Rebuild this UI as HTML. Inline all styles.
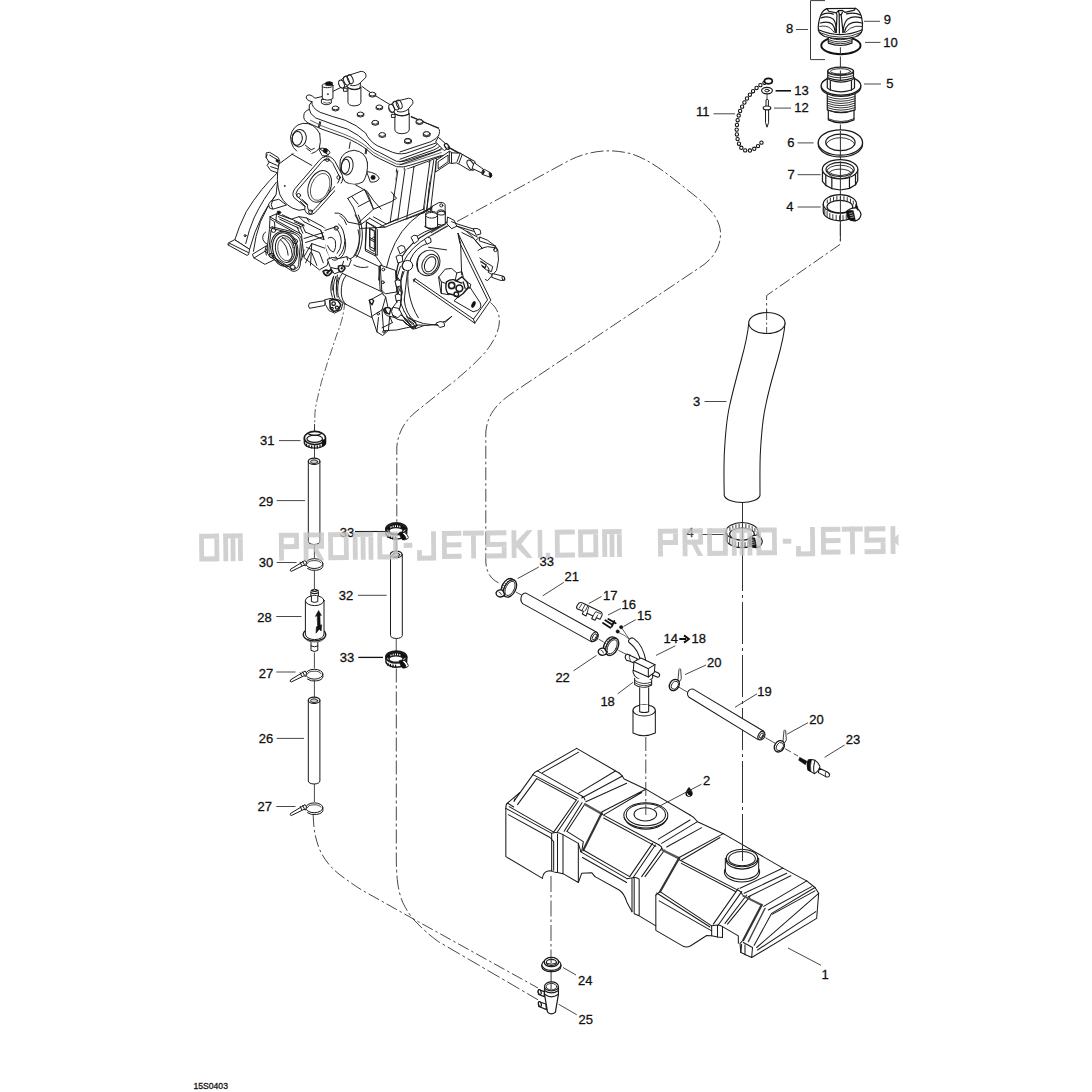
<!DOCTYPE html>
<html><head><meta charset="utf-8"><title>15S0403</title>
<style>
html,body{margin:0;padding:0;background:#fff;}
body{width:1092px;height:1092px;overflow:hidden;font-family:"Liberation Sans",sans-serif;}
svg{display:block}
.l{fill:none;stroke:#1a1a1a;stroke-width:1;stroke-linecap:round;stroke-linejoin:round}
.t{fill:none;stroke:#222;stroke-width:0.8;stroke-linecap:round;stroke-linejoin:round}
.w{fill:#fff;stroke:#1a1a1a;stroke-width:1;stroke-linecap:round;stroke-linejoin:round}
.k{fill:#111;stroke:#111;stroke-width:0.6}
.ld{fill:none;stroke:#333;stroke-width:0.9}
.d{fill:none;stroke:#333;stroke-width:0.9;stroke-dasharray:9 3 2 3}
.s6 .w,.s6 .l{stroke-width:6.2px}.s6 .ld{stroke-width:5px}.s6 .k{stroke-width:3px}.s6 .t{stroke-width:4.6px}
.s4 .w,.s4 .l{stroke-width:4.2px}.s4 .ld{stroke-width:3.4px}.s4 .k{stroke-width:2px}.s4 .t{stroke-width:3.2px}
.s3 .w,.s3 .l{stroke-width:3.1px}.s3 .ld{stroke-width:2.6px}.s3 .k{stroke-width:1.5px}.s3 .t{stroke-width:2.4px}
.s10 .w,.s10 .l{stroke-width:12px}.s10 .ld{stroke-width:10px}.s10 .k{stroke-width:5px}.s10 .t{stroke-width:9px}
.s8 .w,.s8 .l{stroke-width:7.6px}.s8 .ld{stroke-width:6px}.s8 .k{stroke-width:4px}.s8 .t{stroke-width:5.4px}
text{font-family:"Liberation Sans",sans-serif;font-size:13px;fill:#111;stroke:#111;stroke-width:0.3px}
</style></head><body>
<svg width="1092" height="1092" viewBox="0 0 1092 1092">
<rect width="1092" height="1092" fill="#fff"/>
<!-- dashed assembly lines -->
<g class="d">
<!-- A: engine cover -> big loop -> clamp 33 (right) -->
<path d="M457 221.5L570 160C590 150.5 610 148.5 630 153.5C650 159 670 176 692 193.5C708 206 719.5 218 720.5 232C721 248 712 260 699 268L515 391.3C497 403 487.5 414 485.8 432V562C486.5 574 492 580 500 583.5" style="stroke-dasharray:13 3 2.5 3"/>
<!-- B: bracket -> clamp 33 (mid col) -->
<path d="M490.5 302.5C497 308 500 315 499.3 323C498.5 333 492 344 485 352.5C472 367 455 381 440 392.5L415 412.5C404 422 398 433 396.8 447V522" style="stroke-dasharray:12 3 2.5 3"/>
<!-- C: engine bottom -> clamp 31 -->
<path d="M344.8 301C344 314 341 324 337.5 332.5L327.5 362.5C324 374 321.5 381 320 387.5C317.5 398 315.5 406 315 412.5L314.4 431" style="stroke-dasharray:9 2.5 2 2.5;stroke-width:0.8"/>
<!-- L: clamp 27 lower -> T fitting -->
<path d="M313.2 815C313.5 826 314.5 836 319 848C324 860 332 869 341 875.6C349 881.5 356 886.5 362.4 890.4L418.5 921.8L538 988" style="stroke-dasharray:12 3 2.5 3"/>
<!-- M: clamp 33 lower -> T fitting -->
<path d="M396.3 668.5V860C396.5 880 398.5 893 403 903C407 911 411 917 416 922C423 929.5 430 935.5 438.3 941.6L477.8 964.6L538 999.8" style="stroke-dasharray:14 3 3 3"/>
<!-- cap assembly axis to hose 3 -->
<path d="M840.3 224V244.2L766.6 295.5V322" style="stroke-dasharray:12 3 2.5 3"/>
<path d="M742.5 549V846" style="stroke-dasharray:42 4 3 4;stroke-width:1"/>
</g>

<!-- left column: 31,29,30,28,27,26,27 -->
<g id="leftcol">
<!-- center line segments -->
<path class="ld" d="M314.5 424V432M314.5 447.5V458.5M314.4 544.5V558M314.4 570.5V589M314.4 652.5V668.5M314.4 680.5V697.5M314.4 784V802"/>
<!-- clamp 31 -->
<g>
<path class="w" d="M304.3 438.5V442.5A10.6 5.6 0 0 0 325.5 442.5V438.5" style="stroke-width:1.3"/>
<ellipse cx="314.9" cy="438" rx="10.6" ry="6.6" class="w" style="stroke-width:1.6"/>
<ellipse cx="314.7" cy="438.8" rx="7.8" ry="3.6" class="w" style="stroke-width:1.2"/>
<path class="l" d="M307.5 433.6Q314.5 437.5 321.5 433.4" style="stroke-width:1.2"/>
<path class="l" d="M306.5 444.2V446.3M309 445.2V447.4M311.7 445.8V448M314.5 446V448.2M317.3 445.8V448M320 445.2V447.4M322.5 444V446.4M324.4 442.6V444.8" style="stroke-width:1.3"/>
<path class="k" d="M322 440L325.8 439.5V444L322.5 446.6Z"/>
</g>
<!-- tube 29 -->
<path class="w" d="M308.3 461.3V541.5A5.8 3 0 0 0 319.9 541.5V461.3"/>
<ellipse cx="314.1" cy="461.3" rx="5.8" ry="3.2" class="w" style="stroke-width:1.2"/>
<ellipse cx="314.1" cy="461.7" rx="3.6" ry="1.9" class="w" style="fill:#ccc;stroke-width:0.9"/>
<!-- clamp 30 -->
<g id="tie">
<path class="l" d="M305.6 563.6A8.6 4.9 0 1 1 322.9 563.6V566.3A8.6 4.6 0 0 1 307.5 568.6"/>
<path class="l" d="M305.6 563.6A8.6 4.9 0 0 0 322.9 563.6"/>
<path class="l" d="M307.5 563.4A6.8 2.9 0 0 1 321 563" style="stroke-width:0.8"/>
<path class="w" d="M304.8 560.6L290.6 569.2Q289.4 570.8 291.2 571.4L304 565.2L305.6 565.8L306.4 563Z"/>
<path class="l" d="M300.2 562.2L301.6 565.4M302.6 561.4L304.4 564.6"/>
</g>
<!-- filter 28 -->
<g>
<path class="w" d="M310.9 601V591.6Q311 589.4 314.6 589.3Q318.3 589.4 318.4 591.6V601"/>
<path class="l" d="M311.3 590.4Q314.6 592.2 318 590.4M311 592.8Q314.6 594.4 318.3 592.8" style="stroke-width:1.2"/>
<path class="w" d="M303.2 634.5A11.3 6.4 0 0 0 325.8 634.5A11.3 6.4 0 0 0 303.2 634.5Z" style="stroke-width:1.3"/>
<path class="w" d="M305.4 600.6V634A9.3 5.6 0 0 0 324 634V600.6"/>
<ellipse cx="314.7" cy="600.6" rx="9.3" ry="5" class="w"/>
<path class="w" d="M311.4 596V601.6Q314.6 603.2 317.8 601.6V596" />
<path class="l" d="M304.4 637.2A10.4 5.8 0 0 0 325 637.2" style="stroke-width:0.8"/>
<path class="w" d="M311 642.6V650.4Q314.4 652.6 317.8 650.4V642.6"/>
<path class="l" d="M311 646Q314.4 647.8 317.8 646"/>
<path class="k" d="M318.6 610.6L321.4 615.4L319.9 615.2L320.2 625.2L321.6 624.8L321.2 631L319.2 629.2L316 633.2L316.4 627L317.6 625.8L317.2 615.6L315.4 616.4Z"/>
</g>
<!-- clamp 27 -->
<use href="#tie" transform="translate(0 110.6)"/>
<!-- tube 26 -->
<path class="w" d="M308.3 700.3V781A5.8 3 0 0 0 319.9 781V700.3"/>
<ellipse cx="314.1" cy="700.3" rx="5.8" ry="3.2" class="w" style="stroke-width:1.2"/>
<ellipse cx="314.1" cy="700.7" rx="3.6" ry="1.9" class="w" style="fill:#ccc;stroke-width:0.9"/>
<!-- clamp 27 lower -->
<use href="#tie" transform="translate(0 244.2)"/>
</g>

<!-- middle column: 33,32,33 -->
<g id="midcol">
<path class="ld" d="M396.3 540V551M396.3 638.5V651" style="stroke:#777;stroke-width:1.3"/>
<g id="c33">
<path class="w" d="M385.9 528.6V533A10.4 6 0 0 0 406.7 533V528.6" style="stroke-width:1.4"/>
<ellipse cx="396.3" cy="528.8" rx="10.4" ry="5.9" class="w" style="stroke-width:1.7"/>
<path class="k" d="M386 528.8A10.4 5.9 0 0 1 406.6 528.8L403.2 530.6A7 3.2 0 0 0 389.4 530.6Z"/>
<path d="M391 526.2V528.4M393.2 525.6V527.8M395.4 525.3V527.5M397.6 525.3V527.5M399.8 525.7V527.9" stroke="#fff" stroke-width="1.1" fill="none"/>
<ellipse cx="396" cy="530.8" rx="7" ry="3.2" class="w" style="stroke-width:1.2"/>
<path class="l" d="M388 535.2V537.4M390.4 536.2V538.4M393 536.8V539M395.6 537V539.2" style="stroke-width:1.3"/>
<path class="k" d="M399.3 532.4Q403 530.6 406.2 535Q408.4 537.4 407.4 538.6Q405 540.6 402.4 539.8Q400 537.6 399.3 532.4Z"/>
<path class="w" d="M404.4 532.2Q407.6 534.6 408.4 537.4Q408 539 406.2 539.2Q405.8 536 402.6 533.4Z" style="stroke-width:0.9"/>
</g>
<!-- tube 32 -->
<path class="w" d="M390.5 554.4V635.5A5.9 3 0 0 0 402.3 635.5V554.4"/>
<ellipse cx="396.2" cy="554.4" rx="5.8" ry="3.3" class="w" style="stroke-width:1.2"/>
<ellipse cx="396.2" cy="554.8" rx="3.6" ry="1.9" class="w" style="fill:#ccc;stroke-width:0.9"/>
<use href="#c33" transform="translate(0 128.2)"/>
</g>

<!-- fuel line group A: 33,21,17,16,15,22, valve 18 (6x coords, origin 485,555) -->
<g transform="translate(485 555) scale(0.166667)" class="s6">
<!-- axis hints -->
<path class="ld" d="M185 222L222 242M682 505L712 522M800 572L848 596" style="stroke-width:5px"/>
<!-- clamp 33 tilted -->
<g id="tclamp">
<g transform="translate(143 197) rotate(27)">
<ellipse cx="-8" cy="0" rx="34" ry="56" class="w" style="stroke-width:8px"/>
<ellipse cx="8" cy="0" rx="34" ry="56" class="w" style="stroke-width:8px"/>
<ellipse cx="8" cy="0" rx="25" ry="46" class="w" style="stroke-width:5px"/>
<path class="l" d="M-8 -56L8 -56M-8 56L8 56" style="stroke-width:6px"/>
<path class="l" d="M-30 32L-20 36M-36 16L-26 19M-40 0L-28 2M-38 -16L-27 -14M-32 -32L-22 -29" style="stroke-width:4px"/>
</g>
<path class="w" d="M104 210Q74 204 66 228Q68 250 94 252Q112 250 118 236Z" style="stroke-width:8px"/>
<path class="l" d="M84 222Q96 224 98 238" style="stroke-width:5px"/>
</g>
<!-- tube 21 -->
<path class="w" d="M246 229L668 462Q690 480 672 508Q652 526 632 517L226 292Q206 268 222 240Q234 226 246 229Z"/>
<g transform="translate(655 490) rotate(29)"><ellipse rx="17" ry="30" class="w"/><ellipse cx="2" rx="10" ry="20" class="w" style="stroke-width:5px"/></g>
<!-- 17 connector -->
<path class="w" d="M556 298Q566 280 586 288L694 340Q708 350 700 368L690 386L668 376L660 392L640 382L648 366L612 350L606 366L584 354L590 338L552 322Q546 310 556 298Z"/>
<path class="l" d="M566 318L580 296M584 328L600 300M600 336L616 308M622 312L612 350M648 366L664 340L694 352M668 376L676 360" style="stroke-width:5px"/>
<!-- 16 -->
<path d="M708 408L752 436M722 392L766 420M740 384L784 410M776 396L760 430" fill="none" stroke="#111" stroke-width="11" stroke-linecap="round"/>
<!-- 15 -->
<circle cx="817" cy="433" r="10" class="k"/><circle cx="796" cy="459" r="10" class="k"/>
<path class="l" d="M822 440L866 505M800 464Q836 478 866 505" style="stroke-width:4px"/>
<!-- 22 clamp -->
<use href="#tclamp" transform="translate(613 350)"/>
<!-- valve 18 -->
<path class="w" d="M866 506Q878 492 892 500Q950 540 966 640L936 652Q926 570 862 522Q858 514 866 506Z"/>
<path class="w" d="M852 594Q838 602 842 620Q848 636 862 634L904 652L914 622Z"/>
<path class="l" d="M868 598Q860 614 872 632" style="stroke-width:5px"/>
<path class="w" d="M1000 690L1040 708Q1052 716 1046 728Q1038 736 1028 730L996 716Z"/>
<path class="w" d="M888 692Q884 730 940 752Q990 762 1006 736L1006 700Z"/>
<path class="w" d="M894 640L936 618L1020 658L1016 704L980 732L890 692Z"/>
<path class="l" d="M894 640L980 682L1020 658M980 682V732"/>
<path class="w" d="M898 740V778Q946 812 1000 780V752"/>
<path class="l" d="M898 752Q946 786 1000 762M898 765Q946 800 1000 774" style="stroke-width:5px"/>
<path class="w" d="M928 796V932H982V796"/>
<path class="w" d="M888 932V1068Q950 1100 1022 1068V932"/>
<ellipse cx="955" cy="932" rx="67" ry="34" class="w"/>
<path class="w" d="M928 900V938Q955 950 982 938V900" style="stroke:none"/>
<path class="l" d="M928 900V940Q955 950 982 940V900"/>
</g>
<!-- fuel line group B: 20,19,20,23, drop 2 (6x coords, origin 670,640) -->
<g transform="translate(670 640) scale(0.166667)" class="s6">
<path class="ld" d="M52 282L106 314M572 586L632 620M690 652L726 672M742 682L768 696" style="stroke-width:5px"/>
<g id="clip20">
<g transform="translate(26 270) rotate(32)"><ellipse rx="28" ry="36" class="w" style="stroke-width:8px"/><ellipse cx="3" rx="19" ry="26" class="w" style="stroke-width:5px"/></g>
<path class="w" d="M48 238L54 176Q58 166 64 176L68 232L60 246Z" style="stroke-width:5px"/>
</g>
<!-- tube 19 -->
<path class="w" d="M142 296L560 546Q578 562 564 588Q548 606 526 596L112 342Q98 322 112 304Q126 290 142 296Z"/>
<g transform="translate(546 572) rotate(31)"><ellipse rx="15" ry="27" class="w"/><ellipse cx="2" rx="8" ry="17" class="w" style="stroke-width:5px"/></g>
<use href="#clip20" transform="translate(630 368)"/>
<!-- valve 23 -->
<path d="M778 704L822 728L812 748L772 722Z" class="k"/>
<path class="w" d="M830 720Q818 746 828 780L866 802Q892 790 900 760Q890 734 870 722Q848 712 830 720Z"/>
<path d="M830 720Q818 746 828 780L846 790Q838 756 850 718Q838 716 830 720Z" class="k"/>
<path class="l" d="M866 802Q856 770 870 722"/>
<path class="w" d="M896 770L944 792Q962 802 956 816Q948 826 934 820L890 796Z"/>
<path class="l" d="M936 790Q926 804 934 820" style="stroke-width:5px"/>
<!-- drop 2 -->
<path d="M114 884Q142 916 132 932Q114 950 96 932Q88 916 114 884Z" class="k"/>
<path d="M104 922Q106 934 116 934" fill="none" stroke="#fff" stroke-width="6" stroke-linecap="round"/>
</g>

<!-- cap assembly 8,9,10,5,6,7,4 (9.927x coords, origin 786,0) -->
<g transform="translate(786 0) scale(0.100735)" class="s10">
<!-- axis -->
<path class="ld" d="M540 560V700M540 1235V1300M540 1545V1600M540 1890V1940M540 2190V2390"/>
<!-- o-ring 10 -->
<ellipse cx="545" cy="452" rx="195" ry="86" fill="#fff" stroke="#111" stroke-width="19"/>
<!-- neck of cap -->
<path class="w" d="M420 370V428Q540 475 655 428V370Z"/>
<path class="t" d="M425 395Q540 440 650 395M425 412Q540 458 650 412M440 380Q540 410 640 380"/>
<path class="ld" d="M540 470V530"/>
<!-- cap 9 -->
<path class="w" d="M405 85L690 82Q728 100 748 160Q768 230 756 300Q742 345 690 365Q540 408 385 362Q335 340 322 300Q314 230 345 150Q365 100 405 85Z" style="stroke-width:12px"/>
<path class="l" d="M322 296Q540 392 756 296" />
<path class="t" d="M330 322Q540 418 748 322"/>
<path class="l" d="M405 85L425 112L500 128L520 106L560 104L585 122L680 100L690 82M500 128L506 150L498 322M560 122L548 150L566 322M520 106L528 140L530 330M548 150L528 140"/>
<path class="l" d="M348 178Q420 150 470 190Q502 230 498 322M340 228Q420 205 460 240Q486 275 488 318M352 150Q400 118 470 140"/>
<path class="l" d="M745 178Q670 150 610 190Q572 230 566 322M752 228Q680 205 625 240Q588 275 580 318M738 150Q690 120 600 138"/>
<path class="t" d="M335 262Q400 250 440 280Q470 305 478 322M752 262Q690 250 640 280Q606 305 592 322"/>
<!-- part 5 -->
<g>
<path class="w" d="M420 1085V1190Q545 1250 675 1190V1085Z"/>
<path class="t" d="M420 1178Q545 1236 675 1178"/>
<path class="w" d="M410 930V1092Q545 1145 685 1092V930Z"/>
<path class="t" d="M410 958Q545 1010 685 958M410 980Q545 1032 685 980M410 1002Q545 1054 685 1002M410 1024Q545 1076 685 1024M410 1046Q545 1098 685 1046M410 1068Q545 1120 685 1068M410 1090Q545 1140 685 1090"/>
<path class="w" d="M350 850V872A197 95 0 0 0 742 872V850Z"/>
<ellipse cx="546" cy="850" rx="197" ry="95" class="w"/>
<path class="w" d="M410 775V872Q440 905 545 912Q650 905 680 872V775Z"/>
<path class="l" d="M440 800V896M650 800V896"/>
<path class="w" d="M410 775Q440 808 545 815Q650 808 680 775Q660 745 545 738Q430 745 410 775Z"/>
<path class="w" d="M415 705V772Q540 822 670 772V705Z"/>
<path class="t" d="M415 728Q540 775 670 728M415 750Q540 798 670 750"/>
<ellipse cx="542" cy="705" rx="128" ry="38" class="w"/>
<ellipse cx="542" cy="708" rx="100" ry="26" class="t"/>
<path class="ld" d="M540 700V800"/>
</g>
<!-- washer 6 -->
<path class="w" d="M320 1415V1432A220 125 0 0 0 760 1432V1415Z"/>
<ellipse cx="540" cy="1415" rx="220" ry="125" class="w"/>
<ellipse cx="540" cy="1413" rx="146" ry="82" class="w" style="stroke-width:12px"/>
<path class="t" d="M398 1430A146 82 0 0 1 682 1430"/>
<path class="ld" d="M540 1300V1545"/>
<!-- nut 7 -->
<path class="w" d="M362 1680V1800L395 1840L455 1872L540 1886L630 1870L690 1835L712 1795V1680Z"/>
<ellipse cx="537" cy="1680" rx="176" ry="95" class="w"/>
<path class="l" d="M395 1738V1840M455 1766V1872M630 1764V1870M690 1736V1835"/>
<ellipse cx="537" cy="1682" rx="140" ry="70" class="w"/>
<path class="t" d="M405 1700A132 60 0 0 1 669 1700M420 1722A118 50 0 0 1 654 1722M405 1700Q537 1790 669 1700M425 1726A112 46 0 0 0 650 1726"/>
<path class="ld" d="M540 1600V1890"/>
<!-- clamp 4 -->
<g id="hclamp">
<path class="w" d="M370 2025V2100A165 92 0 0 0 700 2100V2025Z"/>
<ellipse cx="535" cy="2025" rx="165" ry="92" class="w" style="stroke-width:12px"/>
<ellipse cx="535" cy="2052" rx="128" ry="62" class="w"/>
<path class="t" d="M410 1985V2016M440 1968V2000M472 1956V1990M505 1950V1984M540 1948V1982M575 1952V1986M608 1962V1994M640 1976V2008M668 1996V2026"/>
<path class="t" d="M385 2078V2128M408 2100V2150M435 2118V2166M465 2130V2178M498 2138V2186M532 2142V2190M566 2140V2188M598 2134V2180"/>
<path class="w" d="M600 2100Q640 2060 700 2064Q740 2090 745 2130Q735 2180 690 2192Q640 2196 618 2170Z"/>
<path class="k" d="M600 2100Q640 2080 668 2092L690 2192Q640 2196 618 2170Z"/>
<path d="M628 2120L660 2112M634 2140L668 2134M640 2160L674 2154" stroke="#fff" stroke-width="6" fill="none"/>
<path class="k" d="M690 2030L712 2050V2090L700 2064Z"/>
<path class="ld" d="M540 1940V2190"/>
</g>
</g>
<!-- chain 11, rivet 12, washer 13 -->
<g>
<path d="M764.5 82.8C754 88 746 98 740.5 110C736 122 735 136 740 146C745 154 754 151.5 762 142" fill="none" stroke="#111" stroke-width="4.4" stroke-linecap="round" stroke-dasharray="0 4.75"/>
<path d="M764.5 82.8C754 88 746 98 740.5 110C736 122 735 136 740 146C745 154 754 151.5 762 142" fill="none" stroke="#fff" stroke-width="2.3" stroke-linecap="round" stroke-dasharray="0 4.75"/>
<ellipse cx="768.4" cy="81.1" rx="3.9" ry="2.7" fill="#fff" stroke="#111" stroke-width="1.7"/>
<ellipse cx="767" cy="90.6" rx="5.4" ry="3.3" class="w" style="stroke-width:1.2"/>
<ellipse cx="767" cy="90.6" rx="2.2" ry="1.3" class="w" style="stroke-width:1"/>
<path class="ld" d="M767 94V99.5"/>
<path class="w" d="M766 106.5V100Q767.2 98.6 768.4 100V106.5"/>
<path class="w" d="M765.5 109.5V122.5L767 127.2L768.6 122.5V109.5Z"/>
<ellipse cx="767" cy="107.9" rx="3.8" ry="1.9" class="w" style="stroke-width:1.2"/>
</g>

<!-- hose 3 + lower clamp 4 (4x coords, origin 650,300) -->
<g transform="translate(650 300) scale(0.25)" class="s4">
<path class="ld" d="M370 812V1000" style="stroke-width:4px"/>
<path class="w" d="M395 92C392 130 380 185 365 240C350 295 330 370 318 425C308 470 300 560 297 620C295 680 296 740 297 782A72 32 0 0 0 440 782C440 740 439 680 441 620C444 560 452 470 462 425C472 375 492 300 510 240C524 190 538 130 540 92Z"/>
<ellipse cx="467.5" cy="92" rx="72.5" ry="42" class="w"/>
<path class="d" d="M466.5 40V134" style="stroke-width:3.4px;stroke-dasharray:40 10 8 10"/>
</g>
<g transform="translate(786 0) scale(0.100735)" class="s10"><use href="#hclamp" transform="translate(-950.4 3331.5) scale(0.96)"/></g>
<!-- vertical axis clamp 4 -> tank -->


<!-- tank 1 (6x coords, origin 495,735) -->
<g transform="translate(495 735) scale(0.166667)" class="s6">
<!-- silhouette fill -->
<path d="M490 80L745 228L775 264L905 325L1170 480L1215 520L1370 592L1730 800L1870 875L1920 915L1942 950L1930 1100L1540 1335L1475 1305L1470 1250L1440 1215L1365 1215L1300 1205L1270 1203L1172 1266Q1150 1278 1130 1268L965 1172V960L822 1060L790 1000Q775 950 745 930L600 850L580 826L520 830L500 885L408 832L375 825L340 815L300 820L285 860L65 730V440Q65 415 75 408L150 345L228 232Z" fill="#fff" stroke="none"/>
<g class="l">
<!-- section 1 top -->
<path d="M490 80L745 228M490 80L255 215Q232 226 228 238M502 103L285 226"/>
<path d="M255 215L520 365M228 238L498 380M250 262L488 390"/>
<path d="M228 238L115 395M250 262L135 418"/>
<path d="M150 345L75 408Q65 415 65 440V730L285 860M75 408L112 432M120 382L115 398"/>
<path d="M65 440L340 590M85 430L352 583"/>
<path d="M80 478L330 615L352 640V812"/>
<path d="M285 860Q288 822 318 816L340 815Q356 826 375 825"/>
<path d="M340 590V815M375 596V825M408 598V832M340 590Q372 578 408 598M375 825L408 832"/>
<!-- seam 1-2 on slanted face -->
<path d="M488 390L352 583M500 396L372 585M522 406L415 578M538 416L432 578"/>
<path d="M520 365Q536 372 540 390"/>
<!-- right end of section 1 top (step) -->
<path d="M500 350L722 216M520 378L765 246M545 400L790 290"/>
<path d="M745 228Q762 240 775 264L905 325"/>
<!-- seam shading 1-2 (dark band on top) -->
<path d="M540 416L640 472" style="stroke-width:14px;stroke:#555"/>
<path d="M640 470L530 690" style="stroke-width:13px;stroke:#333"/>
<!-- section 2 top -->
<path d="M640 462L905 325M655 478L880 345"/>
<path d="M640 475L985 660M652 498L965 668"/>
<path d="M905 325L1170 480"/>
<!-- sender ring -->
<ellipse cx="905" cy="482" rx="132" ry="76"/>
<ellipse cx="905" cy="478" rx="118" ry="66"/>
<ellipse cx="902" cy="476" rx="68" ry="40"/>
<path d="M775 495Q800 560 905 566Q1010 560 1036 495" />
<!-- section 2 slanted face bottom and vertical face -->
<path d="M432 578L530 640L520 700M408 598L500 650V885L408 832"/>
<path d="M530 690L808 850M512 700L792 862"/>
<path d="M500 650L515 700M520 830L580 826Q592 840 600 850M500 885L520 830"/>
<path d="M525 735L790 885"/>
<path d="M600 850L745 930Q775 950 790 1000L822 1060"/>
<!-- column 2 -->
<path d="M792 862L835 855Q852 852 865 865M822 860V1060M835 858V1072M865 865V1085M835 1072L865 1085L965 1145"/>
<!-- seam 2-3 on slanted face -->
<path d="M945 650L808 850M962 660L828 856M1000 680L880 850M1018 690L900 850"/>
<path d="M985 660Q1000 668 1004 684"/>
<!-- right end of section 2 top (step) -->
<path d="M980 625L1170 510M1000 650L1215 520M1030 672L1240 556"/>
<path d="M1170 480Q1200 495 1215 520L1370 592"/>
<path d="M1004 690L1105 740" style="stroke-width:14px;stroke:#555"/>
<path d="M1105 738L990 940" style="stroke-width:13px;stroke:#333"/>
<!-- section 3 top -->
<path d="M1105 735L1370 592M1120 750L1350 615"/>
<path d="M1105 748L1465 935M1118 770L1445 940"/>
<path d="M1370 592L1730 800"/>
<!-- filler neck -->
<ellipse cx="1482" cy="822" rx="106" ry="60" class="w"/>
<path d="M1382 740V812A100 55 0 0 0 1582 812V740Z" class="w"/>
<ellipse cx="1482" cy="738" rx="94" ry="53" class="w"/>
<ellipse cx="1482" cy="742" rx="80" ry="43"/>
<path d="M1388 752A94 53 0 0 0 1576 752M1390 764A94 50 0 0 0 1574 764"/>
<!-- section 3 slanted face -->
<path d="M990 940L1300 1145M970 948L1290 1152"/>
<path d="M965 960V1172L1130 1268Q1150 1278 1172 1266L1270 1203L1300 1205L1335 1212L1365 1215"/>
<path d="M985 995L1300 1175"/>
<path d="M965 960L990 940"/>
<!-- column 3 -->
<path d="M1300 1145L1335 1140Q1350 1138 1365 1150M1300 1145V1205M1335 1142V1212M1365 1150V1215M1365 1150L1460 1205V1250"/>
<!-- seam 3-4 -->
<path d="M1460 920L1310 1135M1480 940L1340 1140M1510 960L1380 1130M1530 970L1395 1135"/>
<path d="M1465 935Q1480 942 1484 958"/>
<!-- section 4 top/end -->
<path d="M1470 920L1725 800M1495 950L1750 830M1520 970L1775 845"/>
<path d="M1730 800L1870 875"/>
<path d="M1490 965L1600 1020" style="stroke-width:12px;stroke:#555"/>
<path d="M1600 1020L1490 1230" style="stroke-width:13px;stroke:#333"/>
<path d="M1620 1040L1520 1240" style="stroke-width:8px;stroke:#444"/>
<path d="M1612 1028L1870 875M1640 1050L1900 910M1665 1075L1920 935"/>
<path d="M1870 875L1920 915L1942 950L1930 1100L1540 1335L1475 1305L1470 1250L1490 1230"/>
<path d="M1920 915L1660 1070L1555 1262M1942 950L1570 1275M1925 1060L1575 1290M1540 1335L1545 1275L1490 1245"/>
<path d="M1475 1305L1480 1255M1500 1258V1318"/>
</g>
</g>

<!-- grommet 24, fitting 25 (9.927x coords, origin 500,930) ; axis lines over tank -->
<path class="d" d="M742.5 838V861" style="stroke-dasharray:40 4 3 4;stroke-width:1"/>
<path class="d" d="M645.8 737V815" style="stroke-dasharray:14 3 2.5 3"/>
<path class="d" d="M551 876V957" style="stroke-dasharray:16 3 2.5 3"/>
<g transform="translate(500 930) scale(0.100735)" class="s10">
<path class="ld" d="M507 410V540"/>
<path class="w" d="M415 345V362A95 52 0 0 0 605 362V345Z"/>
<ellipse cx="510" cy="345" rx="95" ry="55" class="w"/>
<ellipse cx="510" cy="318" rx="72" ry="46" class="w" style="stroke-width:14px"/>
<ellipse cx="510" cy="322" rx="50" ry="30" class="w"/>
<path class="t" d="M462 330Q510 350 558 330"/>
<path class="ld" d="M507 270V330"/>
<!-- fitting 25 -->
<path class="w" d="M440 612L385 592Q372 610 384 640L440 662Z"/>
<ellipse cx="394" cy="616" rx="14" ry="25" class="w" transform="rotate(-15 394 616)"/>
<path class="w" d="M455 735L388 712Q376 730 386 760L462 790Z"/>
<ellipse cx="396" cy="736" rx="14" ry="25" class="w" transform="rotate(-15 396 736)"/>
<path class="w" d="M442 560V640L472 815Q510 850 550 815L580 640V560Z"/>
<path class="l" d="M442 600Q510 650 580 600M446 640Q510 686 576 640"/>
<ellipse cx="511" cy="560" rx="69" ry="45" class="w"/>
<ellipse cx="511" cy="562" rx="52" ry="32" class="t"/>
<path class="ld" d="M507 520V585"/>
</g>

<!-- engine: head (7.8x coords, origin 290,60) -->
<g transform="translate(290 60) scale(0.128205)" class="s8">
<defs>
<g id="hb"><path class="w" d="M-25 -4V12Q0 28 25 12V-4Z"/><ellipse cx="0" cy="-4" rx="25" ry="15" class="w"/></g>
</defs>
<!-- white body of head + cylinder -->
<path d="M128 282Q150 255 195 298L395 215L560 200L780 348L945 440L1160 530L1230 570L1235 640L1180 700L1092 790L1050 1230L800 1300L600 980L600 700L420 600L230 545L108 470Z" fill="#fff"/>
<!-- cylinder side lines -->
<path class="l" d="M832 850L790 1180M892 842L850 1200M968 830L920 1215M1080 800L1040 1190M1105 795L1066 1180"/>
<!-- head cover -->
<path class="l" d="M170 325Q118 312 128 282Q150 256 195 298L250 285M335 245L395 215M560 205Q600 235 640 262Q700 300 780 348M945 445L1160 530"/>
<path class="l" d="M170 325Q165 372 235 408L330 440L430 470Q520 505 590 570Q615 628 680 668L800 720Q870 746 940 716L1160 640"/>
<path class="l" d="M170 325Q140 350 150 382Q152 420 200 452L330 500L450 540Q540 585 600 645Q640 700 700 722L830 790Q880 800 940 776L1180 700"/>
<path class="l" d="M150 385Q108 400 108 432Q102 470 140 490L250 540L420 600Q540 650 600 700Q650 750 700 770L830 832Q880 842 940 820L1180 745"/>
<path class="t" d="M160 470L250 515L420 578Q540 626 600 678Q650 728 700 748L830 812Q880 822 940 798L1180 722"/>
<!-- bolts -->
<use href="#hb" x="355" y="378"/><use href="#hb" x="550" y="425"/><use href="#hb" x="665" y="490"/><use href="#hb" x="720" y="585"/><use href="#hb" x="920" y="630"/>
<use href="#hb" x="643" y="270"/><use href="#hb" x="697" y="370"/><use href="#hb" x="1010" y="480"/><use href="#hb" x="1065" y="580"/>
<!-- sensor -->
<path class="w" d="M245 310V336Q285 362 322 336V312Z"/>
<path class="w" d="M252 202V300Q292 326 335 300V200Z"/>
<ellipse cx="293" cy="200" rx="42" ry="16" class="w"/>
<path class="k" d="M278 176Q305 160 332 176V196Q305 206 278 196Z"/>
<circle cx="296" cy="266" r="5" class="k"/>
<path class="t" d="M262 330Q285 345 310 332"/>
<!-- elbow 1 -->
<path class="w" d="M452 215V330Q455 356 500 358Q550 356 553 330V215Z"/>
<path class="w" d="M395 160L430 128L555 88Q600 92 592 135L550 176L546 222Q500 244 452 218L446 204L410 220Q384 215 382 190Q384 170 395 160Z"/>
<path class="l" d="M452 215Q500 244 553 215M470 196Q510 212 548 180"/>
<ellipse cx="402" cy="188" rx="20" ry="32" class="w" transform="rotate(-22 402 188)"/>
<ellipse cx="440" cy="162" rx="20" ry="36" class="l" transform="rotate(-22 440 162)"/>
<ellipse cx="470" cy="150" rx="20" ry="36" class="l" transform="rotate(-22 470 150)"/>
<rect x="420" y="220" width="26" height="24" class="w"/>
<!-- elbow 2 -->
<path class="w" d="M818 420V545Q822 572 872 575Q925 572 930 545V420Z"/>
<path class="w" d="M785 350L815 325L925 298Q965 302 958 340L926 378L926 424Q872 450 818 422L812 404L796 412Q772 405 770 380Q772 360 785 350Z"/>
<path class="l" d="M818 420Q872 450 930 420M838 402Q880 416 924 384"/>
<ellipse cx="793" cy="376" rx="20" ry="32" class="w" transform="rotate(-22 793 376)"/>
<ellipse cx="826" cy="356" rx="20" ry="36" class="l" transform="rotate(-22 826 356)"/>
<ellipse cx="852" cy="346" rx="20" ry="36" class="l" transform="rotate(-22 852 346)"/>
<rect x="794" y="424" width="26" height="24" class="w"/>
</g>

<!-- engine: head right corner, probe, block right (7.8x coords, origin 400,100) -->
<g transform="translate(400 100) scale(0.128205)" class="s8">
<!-- head corner -->
<path class="l" d="M88 128L300 222Q318 240 300 280"/>
<path class="l" d="M0 405L240 325Q290 300 300 280"/>
<path class="l" d="M0 462L250 372Q300 352 310 300M0 505L270 408Q330 385 345 350M0 482L262 390Q318 368 330 330" />
<use href="#hb" x="152" y="172"/><use href="#hb" x="208" y="266"/><use href="#hb" x="62" y="322"/>
<!-- block right side verticals -->
<path class="l" d="M108 528L55 930M232 478L185 880M285 458L238 862"/>
<path class="l" d="M0 560L345 430"/>
<!-- bracket box right of block -->
<path class="w" d="M285 470L385 400V490L280 560Z"/>
<path class="l" d="M300 480L375 430V482L300 535ZM385 400L405 410V495L385 490"/>
<!-- probe / connector -->
<path class="w" d="M300 292L355 340Q372 352 380 372L345 395L280 330Z"/>
<ellipse cx="366" cy="362" rx="14" ry="26" class="w" transform="rotate(-35 366 362)" style="stroke-width:10px"/>
<path class="l" d="M376 368L560 470" style="stroke-width:12px"/>
<path class="w" d="M405 412L470 415L560 468Q590 470 590 500Q580 540 545 550L470 505L440 490L405 495Z"/>
<path class="l" d="M470 415L445 480M486 424L460 492"/>
<ellipse cx="552" cy="508" rx="22" ry="44" class="l" transform="rotate(-30 552 508)"/>
<path class="w" d="M580 490L650 540L640 570L565 535Z"/>
<path class="w" d="M648 545Q660 535 672 548L712 572Q722 590 708 604L640 580Q632 560 648 545Z"/>
<path class="k" d="M650 548L662 556L650 580L640 572Z"/>
<path class="k" d="M694 566L712 574Q722 590 708 604L698 600Z"/>
<!-- base of block / ledge -->
<path class="l" d="M0 945L185 880L320 800"/>
<path class="w" d="M250 830L300 802Q335 792 352 815V900L300 930L250 900Z"/>
<circle cx="322" cy="822" r="12" class="l"/>
<!-- fittings on top of magneto cover -->
<path class="w" d="M200 890V985Q245 1010 290 985V890Z"/><ellipse cx="245" cy="890" rx="45" ry="22" class="w"/>
<path class="w" d="M290 880V960Q320 975 350 955V870Z"/><ellipse cx="320" cy="872" rx="30" ry="15" class="w"/>
<path class="l" d="M195 985Q245 1020 300 990"/>
</g>

<!-- engine: exhaust port bosses (7.8x coords, origin 290,60) -->
<g transform="translate(290 60) scale(0.128205)" class="s8">
<!-- body below head between bosses -->
<path class="w" d="M230 560L420 640L600 760L830 880L800 1100L600 1000L300 760Z" style="stroke:none"/>
<!-- left boss -->
<path class="w" d="M225 690Q290 678 312 720Q300 752 255 748Z"/>
<circle cx="276" cy="708" r="17" class="k"/>
<path class="w" d="M232 575Q190 488 100 494Q18 510 4 600Q8 700 90 732Q180 748 228 690Q245 640 232 575Z"/>
<ellipse cx="72" cy="610" rx="55" ry="68" class="l" transform="rotate(8 72 610)"/>
<ellipse cx="56" cy="612" rx="40" ry="54" class="l" transform="rotate(8 56 612)"/>
<path class="l" d="M232 480L222 522M240 484L230 524"/>
<path class="l" d="M120 665L165 700L190 690M130 690L160 712"/>
<!-- line from left boss down to flange -->
<path class="l" d="M60 740L30 760M228 690L300 740"/>
<!-- right boss -->
<path class="w" d="M600 870Q680 880 696 922Q680 958 630 952Z"/>
<circle cx="648" cy="916" r="17" class="k"/>
<path class="w" d="M604 800Q590 715 500 704Q415 712 392 780Q380 880 430 950Q500 990 570 950Q610 890 604 800Z"/>
<ellipse cx="446" cy="826" rx="46" ry="72" class="l" transform="rotate(8 446 826)"/>
<ellipse cx="432" cy="830" rx="32" ry="56" class="l" transform="rotate(8 432 830)"/>
<path class="l" d="M592 690L586 730M600 694L594 732"/>
<path class="l" d="M470 640L462 690"/>
</g>

<!-- engine: manifold, flange, carb, support arm (7.8x coords, origin 222,150) -->
<g transform="translate(222 150) scale(0.128205)" class="s8">
<!-- support arm -->
<path class="w" d="M440 170Q300 300 190 480Q130 600 100 700L215 775Q250 640 310 520Q350 440 420 350Z"/>
<path class="l" d="M425 250Q320 380 250 530Q210 620 185 730M420 350Q345 450 300 560Q260 670 245 790"/>
<path class="w" d="M50 725L98 700L215 775L208 815L195 822L50 742Z"/>
<path class="l" d="M50 742L60 728L205 800"/>
<circle cx="180" cy="668" r="8" class="l"/>
<path class="w" d="M240 812L345 748L420 800L420 850L335 892L250 842Z"/>
<path class="l" d="M250 842L335 790L420 850M335 790L345 748"/>
<!-- small top-left connector -->
<path class="w" d="M348 22L372 18L440 60L450 90L436 130L470 150L440 180L380 160L352 120L368 95L345 60Z"/>
<path class="l" d="M372 40L430 75M360 90L430 120M380 130L440 150M352 35L345 60" />
<path class="k" d="M425 70L445 82L440 100L420 88Z"/>
<!-- big round manifold body -->
<path class="w" d="M555 28L445 108Q415 230 452 350Q500 450 600 470L700 460L760 80L640 -20Z" style="stroke:none"/>
<path class="l" d="M555 28L445 108Q415 230 452 350Q500 450 600 470L650 462"/>
<path class="l" d="M545 32L700 120"/>
<circle cx="490" cy="280" r="5" class="k"/>
<!-- short tube under manifold -->
<path class="w" d="M440 385L380 400Q352 420 370 452Q395 470 420 455L500 430Z"/>
<path class="l" d="M392 400Q372 425 395 458"/>
<!-- flange -->
<path class="w" d="M800 52Q850 38 882 90L940 200Q952 245 900 295L742 472Q700 522 660 492Q640 472 646 442L562 372Q540 340 570 300L760 80Q780 55 800 52Z"/>
<path class="l" d="M800 76Q840 66 864 104L916 206Q924 238 884 280L728 456Q700 488 676 470Q664 452 668 432L584 360Q568 340 590 312L774 98Q786 80 800 76Z"/>
<ellipse cx="762" cy="284" rx="86" ry="128" class="w" transform="rotate(22 762 284)"/>
<ellipse cx="766" cy="288" rx="70" ry="110" class="t" transform="rotate(22 766 288)"/>
<circle cx="822" cy="76" r="14" class="l"/><circle cx="910" cy="214" r="14" class="l"/><circle cx="598" cy="354" r="15" class="l"/><circle cx="690" cy="482" r="15" class="l"/>
<path class="l" d="M610 400L650 440M625 385L668 425"/>
<!-- carb: back body -->
<path class="w" d="M375 520L425 498L540 540L600 520L660 530L790 600L830 640L900 590Q960 640 965 740Q960 830 905 852L840 830L820 900L760 935L640 840L620 660Z"/>
<path class="l" d="M640 560L770 625L795 700L650 640M600 520L640 560M660 530L680 560"/>
<path class="l" d="M585 600L610 655M605 592L630 648M625 584L650 640M565 560L640 592"/>
<path class="l" d="M640 690L805 640L815 668L652 722"/>
<path class="l" d="M905 590Q850 650 850 730Q855 810 905 852M830 640Q800 700 815 780L840 830"/>
<path class="l" d="M640 830L700 730L800 765M700 730L690 900M652 880L690 800"/>
<circle cx="892" cy="612" r="16" class="l"/>
<path class="k" d="M430 478Q450 470 462 486Q456 502 438 502Q426 494 430 478Z"/>
<!-- carb front face -->
<path class="w" d="M392 600L560 640Q620 660 626 720L610 900Q600 950 550 946L372 832Q350 812 352 770L370 622Q376 596 392 600Z"/>
<path class="l" d="M375 520L370 610M425 498L420 560L560 640M380 540L410 560L412 605"/>
<ellipse cx="488" cy="772" rx="92" ry="128" class="l" transform="rotate(-12 488 772)" style="stroke-width:9px"/>
<ellipse cx="492" cy="772" rx="74" ry="106" class="l" transform="rotate(-12 492 772)"/>
<ellipse cx="486" cy="772" rx="104" ry="140" class="l" transform="rotate(-12 486 772)"/>
<ellipse cx="496" cy="774" rx="60" ry="90" class="t" transform="rotate(-12 496 774)"/>
<path class="l" d="M392 612L556 652Q606 670 612 722L598 892Q590 934 552 930L380 822Q364 806 366 772L382 632Q384 610 392 612Z"/>
<path class="l" d="M440 520L620 600M450 540L600 610M470 505L640 585"/>
<path class="l" d="M660 760L760 800L790 880M700 800L740 900M640 780L620 860"/>
<path class="l" d="M860 600Q910 650 915 740Q910 810 880 840"/>
<path class="l" d="M810 610L835 700L820 770M770 625L800 700"/>
<path class="l" d="M470 680Q540 720 548 820Q540 860 520 872M455 700Q510 740 516 820"/>
<circle cx="402" cy="626" r="17" class="l"/><circle cx="570" cy="712" r="19" class="l"/><circle cx="386" cy="822" r="17" class="l"/><circle cx="552" cy="916" r="19" class="l"/>
<path class="l" d="M340 640Q310 660 320 700Q335 730 352 735M352 770Q330 790 345 820"/>
<!-- lower fittings -->
<path class="k" d="M800 940Q830 930 850 950Q845 975 815 985Q790 975 800 940Z"/>
<path class="w" d="M850 920L930 895Q960 900 960 930L880 965Z"/>
<path class="l" d="M870 985Q850 1040 860 1092M900 975Q885 1040 895 1092"/>
</g>

<!-- engine: block center (7.8x coords, origin 335,140) -->
<g transform="translate(335 140) scale(0.128205)" class="s8">
<!-- exhaust Y body right of flange -->
<path class="w" d="M60 340L160 350L250 400L330 470L480 455L440 400L500 240L640 210L770 160L690 560L390 680L270 610L200 660L100 640L40 560L0 570L0 340Z" style="stroke:none"/>
<path class="l" d="M100 455L230 385L300 540L190 640M100 455Q150 520 170 600L200 660M130 440L180 500M160 350L250 400Q300 480 360 540"/>
<path class="l" d="M230 385Q260 420 275 470L300 540L440 480L480 455L440 405M275 470L180 520"/>
<path class="l" d="M0 570Q60 560 100 640L200 660L270 610"/>
<path class="l" d="M40 590Q80 620 90 660"/>
<!-- cylinder lines -->
<path class="l" d="M490 240L430 640M545 235L490 625M615 215L560 610M740 170L690 540M770 160L715 545"/>
<path class="l" d="M270 610L390 680L690 560L760 520"/>
<path class="l" d="M300 600L400 655L690 540"/>
<!-- crankcase box -->
<path class="l" d="M245 640L235 850L330 900V700ZM270 690V830L315 855V715ZM270 760L315 785M285 770Q300 750 315 760"/>
<path class="l" d="M180 700Q210 800 160 900L100 940M200 690L390 680"/>
<path class="l" d="M160 900L350 990L340 1092M350 990L480 1040"/>
<path class="l" d="M360 990Q350 1010 365 1025Q385 1020 380 1000"/>
<!-- magneto housing big arc -->
<path class="l" d="M760 520Q560 620 470 800Q420 900 400 1000"/>
</g>

<!-- engine: starter, lower block (7.8x coords, origin 300,215) -->
<g transform="translate(300 215) scale(0.128205)" class="s8">
<!-- intake manifold / rubber boot between carb and block -->
<path class="w" d="M180 110L300 70Q340 90 350 200Q345 280 300 320L230 330L200 250Z" style="stroke:none"/>
<path class="l" d="M195 120L290 88M300 70Q345 100 350 200Q345 280 305 320M275 100Q318 130 322 210Q318 270 290 300"/>
<path class="l" d="M220 180Q250 160 275 200Q285 260 260 290Q230 280 215 240"/>
<circle cx="282" cy="102" r="16" class="l"/>
<path class="l" d="M430 0Q470 60 468 160Q460 260 420 320M455 0Q490 80 486 180Q476 280 440 330"/>
<!-- crankcase box (continuation) -->
<path class="l" d="M520 60L510 280L590 320V95ZM545 110V265L580 285V130ZM545 190L580 210"/>
<path class="l" d="M620 95L760 30M590 320L640 390"/>
<!-- clamps & fittings under carb -->
<path class="w" d="M215 345Q250 320 300 340L365 325L400 350L380 400L330 395L290 420L240 410Z"/>
<path class="l" d="M250 345Q270 365 300 340M330 395L340 360M365 325L372 352"/>
<path class="w" d="M180 440Q205 420 225 440L240 425L250 445L225 470Q195 480 180 440Z" style="stroke-width:13px"/>
<path class="w" d="M300 400Q330 385 350 410Q345 440 315 445Q295 430 300 400Z" style="stroke-width:12px"/>
<circle cx="215" cy="450" r="8" class="k"/><circle cx="326" cy="416" r="8" class="k"/>
<path class="l" d="M420 390Q470 420 530 405"/>
<!-- starter body -->
<path class="w" d="M330 455L640 600L660 640L560 800L345 690Q296 660 294 600Q290 500 330 455Z"/>
<path class="l" d="M360 470Q318 520 322 610Q326 672 362 700"/>
<path class="l" d="M262 480Q222 560 252 640M280 478Q244 560 272 650M300 490Q270 560 290 640"/>
<!-- cable fitting -->
<path class="w" d="M72 690Q58 710 74 728L192 706L200 670Z"/>
<path class="w" d="M195 660Q240 640 300 660L335 690L320 740L270 765L225 745L200 700Z"/>
<path class="w" d="M232 668Q262 652 296 668L318 700L300 742L262 752L236 728Z" style="stroke-width:12px"/>
<circle cx="262" cy="692" r="14" class="l" style="stroke-width:10px"/><circle cx="288" cy="722" r="12" class="l" style="stroke-width:10px"/><circle cx="250" cy="730" r="9" class="l" style="stroke-width:9px"/>
<!-- starter end bracket -->
<path class="w" d="M545 665L640 612L668 640L700 780L690 900L645 940L600 912L560 790Z"/>
<path class="l" d="M560 790L640 740L668 640M640 740L652 905M600 912L612 800"/>
<circle cx="655" cy="910" r="10" class="l"/><circle cx="610" cy="770" r="10" class="l"/>
<path class="w" d="M540 665Q560 650 575 668L562 700Q545 690 540 665Z" style="stroke-width:11px"/>
<!-- block side plate -->
<path class="w" d="M628 392L745 432L755 600L665 615L640 590Z"/>
<path class="l" d="M628 392L615 410L625 585L640 590"/>
<circle cx="650" cy="425" r="11" class="l"/><circle cx="646" cy="525" r="11" class="l"/>
<!-- lower link parts -->
<path class="w" d="M650 735Q680 710 710 730L760 760L740 800L700 790Q660 790 650 735Z"/>
<path class="w" d="M655 742Q672 725 690 738L684 768Q664 768 655 742Z" style="stroke-width:11px"/>
<path class="l" d="M700 790L720 840M760 760L800 790L890 860L905 885L880 890L810 830M720 840L640 880M905 885L1000 850L1092 840"/>
<path class="l" d="M810 800Q830 840 870 860M830 790Q850 830 890 850"/>
</g>

<!-- engine: magneto cover, bracket (7.8x coords, origin 385,205) -->
<g transform="translate(385 205) scale(0.128205)" class="s8">
<!-- pump housing at right (behind bracket) -->
<path class="w" d="M690 290L740 250L800 275L860 320L880 350Q895 430 870 510L800 590L740 560Z"/>
<path class="l" d="M700 385Q720 340 800 325L865 335M740 250L735 280L860 320M860 320L850 350"/>
<circle cx="862" cy="350" r="14" class="l"/>
<path class="w" d="M680 400Q700 385 720 400L790 450L840 480L830 520L790 505L720 450Q690 440 680 400Z"/>
<path class="l" d="M745 440L790 468L780 490L740 462Z" style="stroke-width:10px"/>
<path class="l" d="M700 395Q715 420 700 440M800 480Q820 500 805 525L840 545"/>
<path class="w" d="M840 535L920 555Q940 568 930 585Q915 592 900 588L835 565Z"/>
<ellipse cx="924" cy="572" rx="10" ry="17" class="l" transform="rotate(-20 924 572)"/>
<!-- cover main disc -->
<path class="w" d="M215 270Q300 200 420 170L520 130L560 165Q650 200 700 270L820 735L700 920L520 870Q430 960 240 935Q170 860 150 760Q110 560 215 270Z" style="stroke:none"/>
<path class="l" d="M560 165Q650 200 700 270L760 340M520 870Q430 960 240 935M150 740Q160 850 230 905"/>
<path class="l" d="M330 300Q240 330 200 420M340 330L480 350M215 270Q300 200 420 170"/>
<!-- cover rim with clips (top-left arc) -->
<path class="l" d="M120 430Q180 300 330 220L500 125" style="stroke-width:9px"/>
<path class="l" d="M140 450Q200 325 345 245L515 150"/>
<path class="l" d="M360 215L470 150M368 232L480 166" style="stroke-width:10px;stroke:#444"/>
<path class="w" d="M205 250Q225 225 250 240L262 275L230 300Z"/><path class="w" d="M310 265Q330 240 355 258L360 290L330 305Z"/>
<path class="w" d="M100 330Q125 305 150 322L160 355L120 380Z"/>
<path class="w" d="M490 95L540 120L560 165L520 185L485 150Z"/>
<path class="l" d="M520 130L570 150L700 190L740 215M560 165L690 205"/>
<path class="w" d="M690 185Q720 175 742 195L748 225L715 235Z"/>
<!-- top fittings -->
<path class="w" d="M318 80V170Q365 195 410 170V80Z"/><ellipse cx="364" cy="80" rx="46" ry="22" class="w"/>
<path class="w" d="M410 70V150Q440 165 470 148V62Z"/><ellipse cx="440" cy="64" rx="30" ry="15" class="w"/>
<path class="l" d="M310 170Q365 205 420 175"/>
<path class="l" d="M200 420Q160 560 190 700Q210 800 260 880M175 520L150 740"/>
<path class="l" d="M230 900L300 925L420 940M470 915L520 870"/>
<path class="l" d="M600 215L690 260L760 340M640 205L720 250"/>
<!-- center hub -->
<ellipse cx="338" cy="452" rx="88" ry="102" class="w" transform="rotate(25 338 452)"/>
<ellipse cx="352" cy="462" rx="60" ry="80" class="l" transform="rotate(25 352 462)"/>
<ellipse cx="352" cy="462" rx="40" ry="62" class="l" transform="rotate(25 352 462)"/>
<path class="l" d="M270 390Q240 440 260 520"/>
<!-- left bolt + linkage -->
<circle cx="176" cy="472" r="40" class="w"/>
<path class="l" d="M140 455Q120 480 145 505"/>
<path class="l" d="M120 480L95 560L110 660L90 760L60 800M150 515L120 600L135 680L120 760L150 830M95 560L125 600M110 660L135 680"/>
<path class="w" d="M60 800Q40 830 60 860L100 880L130 850L110 810Z"/>
<path class="w" d="M0 805Q25 790 45 812L35 850Q10 850 0 805Z" style="stroke-width:11px"/>
<path class="l" d="M150 830L180 880L230 905L250 940L220 965L170 930M130 850L160 900"/>
<path class="w" d="M400 920Q430 900 460 915L465 945L430 955Z"/>
<path class="l" d="M0 980L90 975L250 940"/>
<!-- linkage along left rim -->
<path class="l" d="M110 440Q80 520 92 600Q100 680 92 760" style="stroke-width:10px"/>
<path class="l" d="M138 520Q112 600 128 690Q132 760 110 820" style="stroke-width:9px"/>
<path class="w" d="M88 400Q110 380 135 398L138 440L104 452Z"/>
<path class="w" d="M80 590Q100 575 122 592L124 630L92 640Z"/>
<path class="w" d="M82 700Q104 686 126 704L124 742L90 748Z"/>
<path class="l" d="M170 900L210 960L250 940M190 880L240 920" style="stroke-width:9px"/>
<path class="l" d="M60 860Q90 900 140 900L170 930" style="stroke-width:9px"/>
<!-- bracket -->
<path class="w" d="M570 222L825 742L700 922L218 585L235 575L690 890L800 740L585 300Z"/>
<path class="l" d="M570 222L590 300L598 545M700 922L690 890M235 575L225 600"/>
<path class="l" d="M540 745L662 640L742 762Q760 800 722 822L690 832Z"/>
<ellipse cx="690" cy="776" rx="12" ry="26" class="k" transform="rotate(25 690 776)"/>
<!-- component on bracket -->
<path class="w" d="M420 560L470 500L520 495L560 530L545 600L500 700L440 690Z"/>
<path class="l" d="M420 560L440 600L500 620L545 600M440 600L440 690"/>
<path class="w" d="M480 600Q520 570 560 590L600 560L640 600L650 640L610 690L570 720L530 700L490 690Q465 650 480 600Z" style="stroke-width:11px"/>
<circle cx="520" cy="628" r="24" class="l" style="stroke-width:13px"/><circle cx="580" cy="650" r="26" class="l" style="stroke-width:13px"/><circle cx="556" cy="696" r="18" class="l" style="stroke-width:11px"/>
<path class="l" d="M545 590L600 610M610 600L625 650" style="stroke-width:10px"/>
<path class="l" d="M560 530L600 520L610 560M640 600L670 620L660 650"/>
</g>

<!-- labels and leader lines -->
<g class="ld">
<path d="M796 29.5H808"/>
<path d="M825 0.6H810.5V59.6H825" style="stroke:#222"/>
<path d="M864 21.3H880"/>
<path d="M865 42.4H880.5"/>
<path d="M864 84H881"/>
<path d="M713.5 113.8H735"/>
<path d="M774 108.1H791"/>
<path d="M797.6 142.9H813.6"/>
<path d="M797.6 174.7H820.7"/>
<path d="M797.6 207H820.7"/>
<path d="M704.5 401.5H726.5"/>
<path d="M701 534.5H725"/>
<path d="M279 440.6H300.5"/>
<path d="M276.7 500.6H305"/>
<path d="M276.7 562.5H296.5"/>
<path d="M358 595.3H386.7"/>
<path d="M276.3 616.5H301.5"/>
<path d="M276.3 672H295.5"/>
<path d="M276.7 738.4H304"/>
<path d="M276.3 806.5H295.5"/>
<path d="M517.7 578.5L538.8 567"/>
<path d="M542.7 595.8L563.8 582.3"/>
<path d="M588.8 603.5L601.5 596.5"/>
<path d="M608 615L620.8 608.5"/>
<path d="M623.5 626.5L635.8 619.6"/>
<path d="M656 655.4L675.4 645.8"/>
<path d="M685 674.6L706 665"/>
<path d="M596.5 655.4L573.5 670.8"/>
<path d="M735 707.3L757 693.8"/>
<path d="M633 682.3L617.7 693.8"/>
<path d="M787 734.2L808 722.7"/>
<path d="M824.6 757.3L844.6 745"/>
<path d="M654 809L701.5 784.2"/>
<path d="M788 948L821 965.3"/>
<path d="M563 967.5L576 975"/>
<path d="M558.6 1004.2L576.7 1014.7"/>
</g>
<g fill="none" stroke="#111">
<path d="M775.6 90.8H791" stroke-width="1.6"/>
<path d="M355 531.5H385" stroke-width="1.1"/>
<path d="M358.3 657.4H383" stroke-width="1.3"/>
</g>
<g>
<text x="786" y="33.2">8</text>
<text x="883.8" y="24.2">9</text>
<text x="883.3" y="47.4">10</text>
<text x="886.2" y="87.9">5</text>
<text x="794.3" y="95.0">13</text>
<text x="794.3" y="112.3">12</text>
<text x="696" y="116.0">11</text>
<text x="787.3" y="146.8">6</text>
<text x="787.5" y="178.9">7</text>
<text x="786.2" y="210.9">4</text>
<text x="693" y="405.8">3</text>
<text x="686.6" y="537.2" style="fill:#444;stroke:#444">4</text>
<text x="260" y="445.1">31</text>
<text x="258.8" y="505.8">29</text>
<text x="339.8" y="537">33</text>
<text x="258.8" y="567.2">30</text>
<text x="338.8" y="600">32</text>
<text x="257.2" y="621.6">28</text>
<text x="339.8" y="662">33</text>
<text x="258.8" y="677.6">27</text>
<text x="258.8" y="743.2">26</text>
<text x="257.6" y="810.6">27</text>
<text x="539.6" y="565.6">33</text>
<text x="564.6" y="580.9">21</text>
<text x="603" y="600.1">17</text>
<text x="621.5" y="609.2">16</text>
<text x="637" y="620.2">15</text>
<text x="663.5" y="643.2">14</text>
<text x="691.5" y="643.2">18</text>
<path d="M679.3 639H686M684 635.4L688.8 639L684 642.6" fill="none" stroke="#111" stroke-width="2"/>
<text x="707" y="666.6">20</text>
<text x="555.4" y="681.6">22</text>
<text x="757.3" y="695.6">19</text>
<text x="600.4" y="705.9">18</text>
<text x="809.2" y="724.4">20</text>
<text x="845.8" y="743.6">23</text>
<text x="703" y="784.6">2</text>
<text x="821.5" y="979.2">1</text>
<text x="578" y="984.7">24</text>
<text x="578.6" y="1024.4">25</text>
<text x="193.5" y="1089.3" style="font-size:8.6px">15S0403</text>
</g>

<!-- watermark -->
<defs><clipPath id="wmclip"><rect x="196" y="500" width="702.5" height="90"/></clipPath></defs>
<g clip-path="url(#wmclip)">
<g transform="rotate(-0.63 440 545) translate(0 531.1)" fill="#c6c6c6" fill-opacity="0.8">
<path d="M-100.0 0.0h4.8v27.8h-4.8zM-100.0 0.0h20.0v5.0h-20.0zM-84.8 0.0h4.8v16.4h-4.8zM-100.0 11.4h20.0v5.0h-20.0zM-75.4 0.0h4.8v27.8h-4.8zM-75.4 0.0h20.5v5.0h-20.5zM-59.7 0.0h4.8v16.4h-4.8zM-75.4 11.4h20.5v5.0h-20.5zM-66.2 15.9L-61.2 15.9L-54.9 27.8L-60.4 27.8zM-50.8 0.0h4.8v27.8h-4.8zM-35.1 0.0h4.8v27.8h-4.8zM-50.8 0.0h20.5v5.0h-20.5zM-50.8 22.8h20.5v5.0h-20.5zM-26.2 0.0h4.8v27.8h-4.8zM-10.5 0.0h4.8v27.8h-4.8zM-18.3 0.0h4.8v27.8h-4.8zM-26.2 0.0h20.5v5.0h-20.5zM-1.6 0.0h4.8v27.8h-4.8zM14.1 0.0h4.8v27.8h-4.8zM-1.6 0.0h20.5v5.0h-20.5zM-1.6 22.8h20.5v5.0h-20.5zM24.8 11.4h8.5v5.0h-8.5zM52.2 0.0h4.8v29.3h-4.8zM38.0 24.3h19.0v5.0h-19.0zM38.0 18.8h4.8v10.5h-4.8zM63.0 0.0h4.8v27.8h-4.8zM63.0 0.0h19.5v5.0h-19.5zM63.0 11.4h19.5v5.0h-19.5zM63.0 22.8h19.5v5.0h-19.5zM84.0 0.0h21.0v5.0h-21.0zM92.1 0.0h4.8v27.8h-4.8zM106.5 0.0h21.0v5.0h-21.0zM106.5 0.0h4.8v16.4h-4.8zM106.5 11.4h21.0v5.0h-21.0zM122.7 11.4h4.8v16.4h-4.8zM106.5 22.8h21.0v5.0h-21.0zM132.6 0.0h4.8v27.8h-4.8zM137.4 10.9L148.1 0L153.6 0L142.4 13.9L153.6 27.8L148.1 27.8L137.4 16.9zM158.7 0.0h4.6v27.8h-4.6zM166.7 22.8h4.4v5.0h-4.4zM175.9 0.0h4.8v27.8h-4.8zM175.9 0.0h20.0v5.0h-20.0zM175.9 22.8h20.0v5.0h-20.0zM199.2 0.0h4.8v27.8h-4.8zM214.4 0.0h4.8v27.8h-4.8zM199.2 0.0h20.0v5.0h-20.0zM199.2 22.8h20.0v5.0h-20.0zM223.3 0.0h4.8v27.8h-4.8zM238.0 0.0h4.8v27.8h-4.8zM230.6 0.0h4.8v27.8h-4.8zM223.3 0.0h19.5v5.0h-19.5zM279.0 0.0h4.8v27.8h-4.8zM279.0 0.0h20.0v5.0h-20.0zM294.2 0.0h4.8v16.4h-4.8zM279.0 11.4h20.0v5.0h-20.0zM303.6 0.0h4.8v27.8h-4.8zM303.6 0.0h20.5v5.0h-20.5zM319.3 0.0h4.8v16.4h-4.8zM303.6 11.4h20.5v5.0h-20.5zM312.8 15.9L317.8 15.9L324.1 27.8L318.6 27.8zM328.2 0.0h4.8v27.8h-4.8zM343.9 0.0h4.8v27.8h-4.8zM328.2 0.0h20.5v5.0h-20.5zM328.2 22.8h20.5v5.0h-20.5zM352.8 0.0h4.8v27.8h-4.8zM368.5 0.0h4.8v27.8h-4.8zM360.7 0.0h4.8v27.8h-4.8zM352.8 0.0h20.5v5.0h-20.5zM377.4 0.0h4.8v27.8h-4.8zM393.1 0.0h4.8v27.8h-4.8zM377.4 0.0h20.5v5.0h-20.5zM377.4 22.8h20.5v5.0h-20.5zM403.8 11.4h8.5v5.0h-8.5zM431.2 0.0h4.8v29.3h-4.8zM417.0 24.3h19.0v5.0h-19.0zM417.0 18.8h4.8v10.5h-4.8zM442.0 0.0h4.8v27.8h-4.8zM442.0 0.0h19.5v5.0h-19.5zM442.0 11.4h19.5v5.0h-19.5zM442.0 22.8h19.5v5.0h-19.5zM463.0 0.0h21.0v5.0h-21.0zM471.1 0.0h4.8v27.8h-4.8zM485.5 0.0h21.0v5.0h-21.0zM485.5 0.0h4.8v16.4h-4.8zM485.5 11.4h21.0v5.0h-21.0zM501.7 11.4h4.8v16.4h-4.8zM485.5 22.8h21.0v5.0h-21.0zM511.6 0.0h4.8v27.8h-4.8zM516.4 10.9L527.1 0L532.6 0L521.4 13.9L532.6 27.8L527.1 27.8L516.4 16.9zM537.7 0.0h4.6v27.8h-4.6zM545.7 22.8h4.4v5.0h-4.4zM554.9 0.0h4.8v27.8h-4.8zM554.9 0.0h20.0v5.0h-20.0zM554.9 22.8h20.0v5.0h-20.0zM578.2 0.0h4.8v27.8h-4.8zM593.4 0.0h4.8v27.8h-4.8zM578.2 0.0h20.0v5.0h-20.0zM578.2 22.8h20.0v5.0h-20.0zM602.3 0.0h4.8v27.8h-4.8zM617.0 0.0h4.8v27.8h-4.8zM609.6 0.0h4.8v27.8h-4.8zM602.3 0.0h19.5v5.0h-19.5zM658.0 0.0h4.8v27.8h-4.8zM658.0 0.0h20.0v5.0h-20.0zM673.2 0.0h4.8v16.4h-4.8zM658.0 11.4h20.0v5.0h-20.0zM682.6 0.0h4.8v27.8h-4.8zM682.6 0.0h20.5v5.0h-20.5zM698.3 0.0h4.8v16.4h-4.8zM682.6 11.4h20.5v5.0h-20.5zM691.8 15.9L696.8 15.9L703.1 27.8L697.6 27.8zM707.2 0.0h4.8v27.8h-4.8zM722.9 0.0h4.8v27.8h-4.8zM707.2 0.0h20.5v5.0h-20.5zM707.2 22.8h20.5v5.0h-20.5zM731.8 0.0h4.8v27.8h-4.8zM747.5 0.0h4.8v27.8h-4.8zM739.6 0.0h4.8v27.8h-4.8zM731.8 0.0h20.5v5.0h-20.5zM756.4 0.0h4.8v27.8h-4.8zM772.1 0.0h4.8v27.8h-4.8zM756.4 0.0h20.5v5.0h-20.5zM756.4 22.8h20.5v5.0h-20.5zM782.8 11.4h8.5v5.0h-8.5zM810.2 0.0h4.8v29.3h-4.8zM796.0 24.3h19.0v5.0h-19.0zM796.0 18.8h4.8v10.5h-4.8zM821.0 0.0h4.8v27.8h-4.8zM821.0 0.0h19.5v5.0h-19.5zM821.0 11.4h19.5v5.0h-19.5zM821.0 22.8h19.5v5.0h-19.5zM842.0 0.0h21.0v5.0h-21.0zM850.1 0.0h4.8v27.8h-4.8zM864.5 0.0h21.0v5.0h-21.0zM864.5 0.0h4.8v16.4h-4.8zM864.5 11.4h21.0v5.0h-21.0zM880.7 11.4h4.8v16.4h-4.8zM864.5 22.8h21.0v5.0h-21.0zM890.6 0.0h4.8v27.8h-4.8zM895.4 10.9L906.1 0L911.6 0L900.4 13.9L911.6 27.8L906.1 27.8L895.4 16.9zM916.7 0.0h4.6v27.8h-4.6zM924.7 22.8h4.4v5.0h-4.4zM933.9 0.0h4.8v27.8h-4.8zM933.9 0.0h20.0v5.0h-20.0zM933.9 22.8h20.0v5.0h-20.0zM957.2 0.0h4.8v27.8h-4.8zM972.4 0.0h4.8v27.8h-4.8zM957.2 0.0h20.0v5.0h-20.0zM957.2 22.8h20.0v5.0h-20.0zM981.3 0.0h4.8v27.8h-4.8zM996.0 0.0h4.8v27.8h-4.8zM988.6 0.0h4.8v27.8h-4.8zM981.3 0.0h19.5v5.0h-19.5z"/>
</g>
<rect x="192.5" y="531" width="1" height="30" fill="#ddd"/>
</g>

</svg>
</body></html>
